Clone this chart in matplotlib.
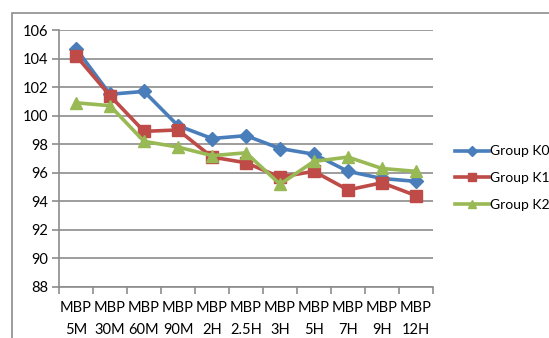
import matplotlib
matplotlib.use("Agg")
import matplotlib.pyplot as plt
from matplotlib.patches import Rectangle

categories = ["MBP\n5M", "MBP\n30M", "MBP\n60M", "MBP\n90M", "MBP\n2H", "MBP\n2.5H",
              "MBP\n3H", "MBP\n5H", "MBP\n7H", "MBP\n9H", "MBP\n12H"]
group_k0 = [104.7, 101.5, 101.7, 99.3, 98.4, 98.6, 97.7, 97.3, 96.1, 95.6, 95.4]
group_k1 = [104.2, 101.4, 98.9, 99.0, 97.1, 96.7, 95.7, 96.1, 94.8, 95.3, 94.4]
group_k2 = [100.9, 100.7, 98.2, 97.8, 97.2, 97.4, 95.2, 96.8, 97.1, 96.3, 96.1]
series_names = ["Group K0", "Group K1", "Group K2"]
yticks = [88, 90, 92, 94, 96, 98, 100, 102, 104, 106]

plt.rcParams['font.family'] = ['Lato', 'DejaVu Sans']

W, H = 549, 338
fig = plt.figure(figsize=(W / 100, H / 100), dpi=100)

# outer chart border
fig.patches.append(Rectangle((12 / W, -0.1), 1.2, 1 - 13 / H + 0.1, transform=fig.transFigure,
                             fill=False, edgecolor="#8c8c8c", linewidth=1.2))

left, right, top, bottom = 59, 433, 30, 287
ax = fig.add_axes([left / W, 1 - bottom / H, (right - left) / W, (bottom - top) / H])

colors = ["#4A7EBB", "#BE4B48", "#98B954"]
markers = ["D", "s", "^"]
msizes = [7, 8.5, 8.5]
x = list(range(len(categories)))
for vals, c, m, ms, name in zip([group_k0, group_k1, group_k2], colors, markers, msizes, series_names):
    ax.plot(x, vals, color=c, marker=m, markersize=ms, linewidth=2.6, label=name,
            markeredgecolor=c)

ax.set_xlim(-0.5, len(categories) - 0.5)
ax.set_ylim(88, 106)
ax.set_yticks(yticks)
ax.set_yticklabels([str(v) for v in yticks], fontsize=10.5)
ax.set_xticks(x)
ax.set_xticklabels(categories, fontsize=10.5, linespacing=1.75)
ax.set_xticks([i - 0.5 for i in range(len(categories) + 1)], minor=True)
ax.tick_params(axis='x', which='major', length=0, pad=10)
ax.tick_params(axis='x', which='minor', length=5, color="#8c8c8c", width=1.2)
ax.tick_params(axis='y', length=5, color="#8c8c8c", width=1.2, pad=3)
ax.grid(axis='y', color="#8c8c8c", linewidth=1.2)
ax.set_axisbelow(True)
for s in ["top", "right"]:
    ax.spines[s].set_visible(False)
for s in ["left", "bottom"]:
    ax.spines[s].set_color("#8c8c8c")
    ax.spines[s].set_linewidth(1.2)

handles, labels = ax.get_legend_handles_labels()
leg = fig.legend(handles, labels, loc="center left", bbox_to_anchor=(451 / W, 1 - 178 / H),
                 frameon=False, fontsize=10, handlelength=2.4, handletextpad=0.1,
                 labelspacing=1.05, markerscale=0.7, borderaxespad=0, borderpad=0.3)

fig.savefig("out.png", dpi=100)
